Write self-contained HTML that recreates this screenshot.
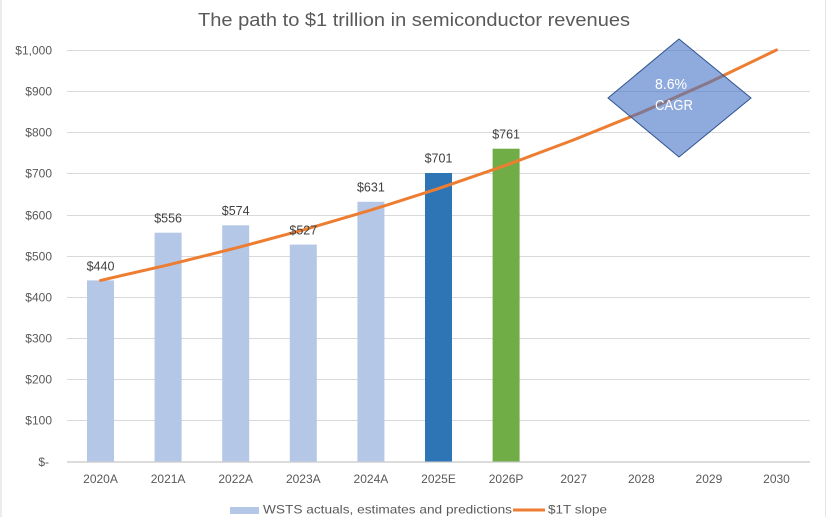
<!DOCTYPE html>
<html>
<head>
<meta charset="utf-8">
<style>
  html, body { margin:0; padding:0; background:#fff; }
  svg { display:block; }
  text { font-family: "Liberation Sans", Arial, sans-serif; }
</style>
</head>
<body>
<svg width="827" height="517" viewBox="0 0 827 517" xmlns="http://www.w3.org/2000/svg">
  <rect x="0" y="0" width="827" height="517" fill="#ffffff"/>
  <!-- chart border -->
  <line x1="1" y1="0" x2="1" y2="517" stroke="#d9d9d9" stroke-width="1"/>
  <line x1="825.5" y1="0" x2="825.5" y2="517" stroke="#e6e6e6" stroke-width="1"/>

  <!-- title -->
  <text x="198" y="26" font-size="18" fill="#595959" textLength="432" lengthAdjust="spacingAndGlyphs">The path to $1 trillion in semiconductor revenues</text>

  <!-- gridlines -->
  <g stroke="#d9d9d9" stroke-width="1">
    <line x1="67" y1="50.5" x2="810" y2="50.5"/>
    <line x1="67" y1="91.5" x2="810" y2="91.5"/>
    <line x1="67" y1="132.5" x2="810" y2="132.5"/>
    <line x1="67" y1="173.5" x2="810" y2="173.5"/>
    <line x1="67" y1="215.5" x2="810" y2="215.5"/>
    <line x1="67" y1="256.5" x2="810" y2="256.5"/>
    <line x1="67" y1="297.5" x2="810" y2="297.5"/>
    <line x1="67" y1="338.5" x2="810" y2="338.5"/>
    <line x1="67" y1="379.5" x2="810" y2="379.5"/>
    <line x1="67" y1="420.5" x2="810" y2="420.5"/>
  </g>
  <line x1="67" y1="462" x2="810" y2="462" stroke="#d0d0d0" stroke-width="1.5"/>

  <!-- y axis labels -->
  <g font-size="12" fill="#595959" text-anchor="end">
    <text x="52" y="54.5">$1,000</text>
    <text x="52" y="95.5">$900</text>
    <text x="52" y="136.5">$800</text>
    <text x="52" y="177.5">$700</text>
    <text x="52" y="219.5">$600</text>
    <text x="52" y="260.5">$500</text>
    <text x="52" y="301.5">$400</text>
    <text x="52" y="342.5">$300</text>
    <text x="52" y="383.5">$200</text>
    <text x="52" y="424.5">$100</text>
    <text x="49" y="466">$-</text>
  </g>

  <!-- bars -->
  <g>
    <rect x="87" y="280.4" width="27" height="181.1" fill="#b4c7e7"/>
    <rect x="154.6" y="232.7" width="27" height="228.8" fill="#b4c7e7"/>
    <rect x="222.2" y="225.3" width="27" height="236.2" fill="#b4c7e7"/>
    <rect x="289.8" y="244.6" width="27" height="216.9" fill="#b4c7e7"/>
    <rect x="357.4" y="201.8" width="27" height="259.7" fill="#b4c7e7"/>
    <rect x="425" y="173" width="27" height="288.5" fill="#2e75b6"/>
    <rect x="492.6" y="148.7" width="27" height="312.8" fill="#70ad47"/>
  </g>

  <!-- orange line -->
  <polyline fill="none" stroke="#ed7d31" stroke-width="3" stroke-linejoin="round" stroke-linecap="round"
    points="100.5,280.4 168.1,264.9 235.7,248.1 303.3,229.9 370.9,210.1 438.5,188.6 506.1,165.2 573.7,139.9 641.3,112.5 708.9,82.5 776.5,50"/>

  <!-- data labels -->
  <g font-size="12.5" fill="#404040" text-anchor="middle">
    <text x="100.5" y="270.5">$440</text>
    <text x="168.1" y="222.5">$556</text>
    <text x="235.7" y="215">$574</text>
    <text x="303.3" y="234.5">$527</text>
    <text x="370.9" y="191.5">$631</text>
    <text x="438.5" y="162.5">$701</text>
    <text x="506.1" y="138.5">$761</text>
  </g>

  <!-- x axis labels -->
  <g font-size="12" fill="#595959" text-anchor="middle">
    <text x="100.5" y="483">2020A</text>
    <text x="168.1" y="483">2021A</text>
    <text x="235.7" y="483">2022A</text>
    <text x="303.3" y="483">2023A</text>
    <text x="370.9" y="483">2024A</text>
    <text x="438.5" y="483">2025E</text>
    <text x="506.1" y="483">2026P</text>
    <text x="573.7" y="483">2027</text>
    <text x="641.3" y="483">2028</text>
    <text x="708.9" y="483">2029</text>
    <text x="776.5" y="483">2030</text>
  </g>

  <!-- diamond -->
  <polygon points="679,39 751,98 679,157 608,98" fill="#4472c4" fill-opacity="0.6" stroke="#2f528f" stroke-width="1"/>
  <text x="655" y="89" font-size="15" fill="#ffffff" textLength="32" lengthAdjust="spacingAndGlyphs">8.6%</text>
  <text x="655" y="110" font-size="15" fill="#ffffff" textLength="38" lengthAdjust="spacingAndGlyphs">CAGR</text>

  <!-- legend -->
  <rect x="230" y="507" width="29" height="7" fill="#b4c7e7"/>
  <text x="263" y="513.5" font-size="12" fill="#595959" textLength="249" lengthAdjust="spacingAndGlyphs">WSTS actuals, estimates and predictions</text>
  <line x1="513" y1="510" x2="545" y2="510" stroke="#ed7d31" stroke-width="3"/>
  <text x="548" y="513.5" font-size="12" fill="#595959" textLength="59" lengthAdjust="spacingAndGlyphs">$1T slope</text>
</svg>
</body>
</html>
